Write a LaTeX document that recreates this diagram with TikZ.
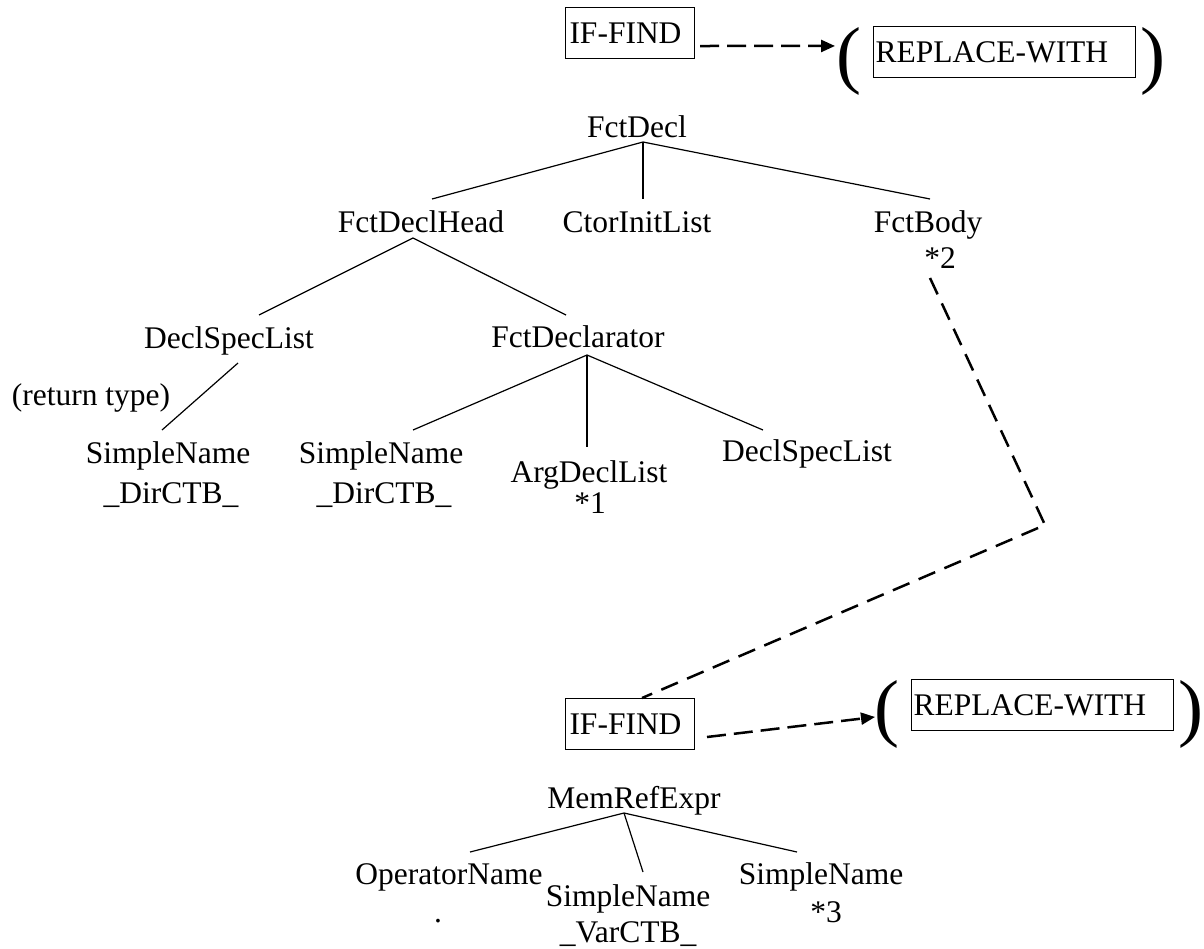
\documentclass[tikz,border=0pt]{standalone}
\usepackage{fontspec}
\setmainfont{Liberation Serif}
\usetikzlibrary{calc,arrows.meta}
\begin{document}
\begin{tikzpicture}[x=1pt,y=-1pt,
  tnode/.style={inner sep=0pt, anchor=base, font=\fontsize{31.5}{36}\selectfont},
  rulebox/.style={draw, line width=1pt, inner xsep=0pt, inner ysep=0pt,
    minimum height=51pt, anchor=north west, font=\fontsize{31.5}{36}\selectfont},
  paren/.style={inner sep=0pt, anchor=base west, font=\fontsize{75}{75}\selectfont},
  branch/.style={line width=1.2pt},
  link/.style={line width=2.5pt, dash pattern=on 18pt off 10pt, line join=miter},
  rewrite/.style={line width=2.5pt, dash pattern=on 19pt off 8pt,
    -{Triangle[length=14pt,width=12pt]}}
]
\fill[white] (0,0) rectangle (1204,948);
\useasboundingbox (0,0) rectangle (1204,948);

% ---- top rewrite rule ----
\node[rulebox] (find1) at (565,7) {\hspace*{4pt}IF-FIND\hspace*{13pt}};
\node[paren] (lp1) at (836,79) {(};
\node[rulebox] (rep1) at (873,26) {\hspace*{2pt}REPLACE-WITH\hspace*{27pt}};
\node[paren] (rp1) at (1140,79) {)};
\draw[rewrite] ($(find1.south east)+(5,-13)$) -- ($(lp1.west)+(-1,-15)$);

% ---- function declaration tree ----
\node[tnode] (fctdecl) at (637,137) {FctDecl};
\node[tnode] (head) at (421,232) {FctDeclHead};
\node[tnode] (ctor) at (637,232) {CtorInitList};
\node[tnode] (body) at (928,232) {FctBody};
\node[tnode] (star2) at (940,268) {*2};
\node[tnode] (specl) at (229,348) {DeclSpecList};
\node[tnode] (fdecl) at (578,347) {FctDeclarator};
\node[tnode] (rettype) at (91,405) {(return type)};
\node[tnode] (sn1) at (168,463) {SimpleName};
\node[tnode] (dir1) at (171,503) {\_DirCTB\_};
\node[tnode] (sn2) at (381,463) {SimpleName};
\node[tnode] (dir2) at (384,503) {\_DirCTB\_};
\node[tnode] (args) at (589,482) {ArgDeclList};
\node[tnode] (star1) at (590,513) {*1};
\node[tnode] (specr) at (807,461) {DeclSpecList};

\coordinate (j0) at ($(fctdecl.base)+(6,5)$);
\draw[branch] (j0) -- ($(head.base)+(11,-33)$);
\draw[branch] (j0) -- ($(ctor.base)+(6,-33)$);
\draw[branch] (j0) -- ($(body.base)+(2,-33)$);
\coordinate (j1) at ($(head.base)+(-8,6)$);
\draw[branch] (j1) -- ($(specl.base)+(30,-33)$);
\draw[branch] (j1) -- ($(fdecl.base)+(-12,-32)$);
\draw[branch] ($(specl.base)+(9,15)$) -- ($(sn1.base)+(-6,-33)$);
\coordinate (j2) at ($(fdecl.base)+(9,8)$);
\draw[branch] (j2) -- ($(sn2.base)+(32,-33)$);
\draw[branch] (j2) -- ($(args.base)+(-2,-35)$);
\draw[branch] (j2) -- ($(specr.base)+(-44,-31)$);

% ---- nested rewrite rule ----
\node[rulebox] (find2) at (565,698) {\hspace*{4pt}IF-FIND\hspace*{13pt}};
\node[paren] (lp2) at (874,732) {(};
\node[rulebox] (rep2) at (911,679) {\hspace*{2pt}REPLACE-WITH\hspace*{27pt}};
\node[paren] (rp2) at (1178,732) {)};
\draw[rewrite] ($(find2.south east)+(12,-13)$) -- ($(lp2.west)+(1,3)$);

\coordinate (bend) at (1045,525);
\draw[link] ($(star2.base)+(-10,10)$) -- (bend) -- ($(find2.north)+(12,0)$);

% ---- member reference tree ----
\node[tnode] (memref) at (634,808) {MemRefExpr};
\node[tnode] (opname) at (449,884) {OperatorName};
\node[tnode] (dot) at (438,922) {.};
\node[tnode] (sn3) at (628,906) {SimpleName};
\node[tnode] (var) at (628,942) {\_VarCTB\_};
\node[tnode] (sn4) at (821,884) {SimpleName};
\node[tnode] (star3) at (826,922) {*3};

\coordinate (j3) at ($(memref.base)+(-10,5)$);
\draw[branch] (j3) -- ($(opname.base)+(21,-32)$);
\draw[branch] (j3) -- ($(sn3.base)+(15,-34)$);
\draw[branch] (j3) -- ($(sn4.base)+(-24,-32)$);
\end{tikzpicture}
\end{document}
